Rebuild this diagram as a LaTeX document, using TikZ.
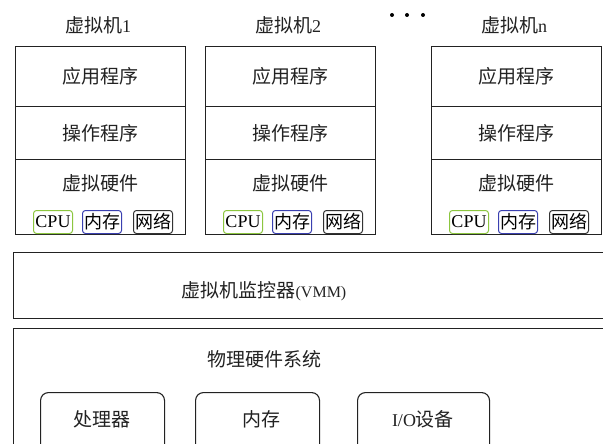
\documentclass[tikz,border=0pt]{standalone}
\usepackage{fontspec}
\setmainfont{Liberation Serif}
\newfontfamily\cjk{Noto Sans CJK SC}
\definecolor{cpugreen}{HTML}{8CC63F}
\definecolor{memblue}{HTML}{3A40B0}
\definecolor{netgray}{HTML}{333333}
\definecolor{linegray}{HTML}{222222}
\begin{document}
\begin{tikzpicture}[x=1pt,y=-1pt,
  layer/.style={draw=linegray, line width=1.1pt},
  txt/.style={inner sep=0pt, text=linegray, font=\cjk\fontsize{19}{19}\selectfont},
  chip/.style={draw, line width=1pt, rounded corners=3pt, minimum width=39pt, minimum height=23pt, inner sep=0pt, anchor=south west, text=black},
  hw/.style={draw=linegray, line width=1.1pt, rounded corners=8pt, minimum width=124pt, minimum height=70pt, anchor=north west, inner sep=0pt}
]
\useasboundingbox (0,0) rectangle (603,444);
\clip (0,0) rectangle (603,444);
\fill[white] (0,0) rectangle (603,444);

% dots
\foreach \i/\xx in {1/392,2/407,3/423}
  \fill (\xx,15) circle (2pt) node (dot\i) {};

% virtual machines
\foreach \n/\x/\lab in {a/15/1,b/205/2,c/431/n}{
  \node[txt] (title\n) at (\x+83,25) {虚拟机{\rmfamily\fontsize{18}{18}\selectfont\lab}};
  \node[layer, minimum width=170pt, minimum height=60pt, anchor=north west, inner sep=0pt] (app\n) at (\x,46) {};
  \node[layer, minimum width=170pt, minimum height=53pt, anchor=north west, inner sep=0pt] (os\n) at (\x,106) {};
  \node[layer, minimum width=170pt, minimum height=75pt, anchor=north west, inner sep=0pt] (vh\n) at (\x,159) {};
  \node[txt] (appt\n) at (\x+85,76) {应用程序};
  \node[txt] (ost\n) at (\x+85,133) {操作程序};
  \node[txt] (vht\n) at (\x+85,183) {虚拟硬件};
  \node[chip, draw=cpugreen, font=\rmfamily\fontsize{18}{18}\selectfont] (cpu\n) at (\x+18,234) {CPU};
  \node[chip, draw=memblue, font=\cjk\fontsize{18}{18}\selectfont] (mem\n) at (\x+67,234) {内存};
  \node[chip, draw=netgray, font=\cjk\fontsize{18}{18}\selectfont] (net\n) at (\x+118,234) {网络};
}

% VMM
\node[layer, minimum width=620pt, minimum height=66pt, anchor=north west, inner sep=0pt] (vmm) at (13,252) {};
\node[txt] (vmmt) at (264,291) {虚拟机监控器{\rmfamily\fontsize{16}{16}\selectfont(VMM)}};

% physical hardware
\node[layer, minimum width=620pt, minimum height=140pt, anchor=north west, inner sep=0pt] (phys) at (13,328) {};
\node[txt] (physt) at (264,359) {物理硬件系统};
\node[hw] (cpu) at (40,392) {};
\node[hw] (mem) at (195,392) {};
\node[hw, minimum width=132pt] (io) at (357,392) {};
\node[txt] (cput) at (102,419) {处理器};
\node[txt] (memt) at (261,419) {内存};
\node[txt] (iot) at (423,419) {{\rmfamily\fontsize{18}{18}\selectfont I/O}设备};
\end{tikzpicture}
\end{document}
